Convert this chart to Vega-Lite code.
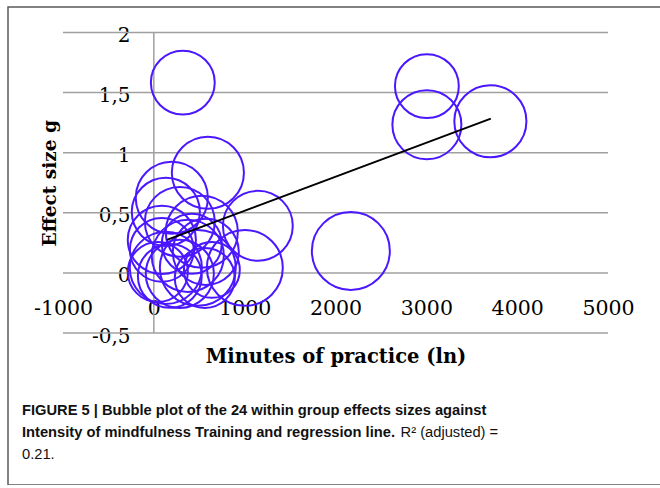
{
  "$schema": "https://vega.github.io/schema/vega-lite/v6.json",
  "width": 660,
  "height": 478,
  "autosize": {"type": "none"},
  "padding": {"left": 8, "top": 7, "right": 0, "bottom": 0},
  "background": "white",
  "datasets": {
    "bubbles": [
      {"minutes": 319, "g": 1.583, "w": 102},
      {"minutes": 3006, "g": 1.554, "w": 102},
      {"minutes": 3006, "g": 1.233, "w": 119},
      {"minutes": 3705, "g": 1.262, "w": 130},
      {"minutes": 2169, "g": 0.183, "w": 152},
      {"minutes": 595, "g": 0.833, "w": 130},
      {"minutes": 1145, "g": 0.392, "w": 122},
      {"minutes": 1002, "g": 0.042, "w": 144},
      {"minutes": 198, "g": 0.625, "w": 130},
      {"minutes": 132, "g": 0.508, "w": 116},
      {"minutes": 286, "g": 0.425, "w": 122},
      {"minutes": 88, "g": 0.275, "w": 116},
      {"minutes": 528, "g": 0.342, "w": 130},
      {"minutes": 88, "g": 0.192, "w": 102},
      {"minutes": 374, "g": 0.142, "w": 130},
      {"minutes": 132, "g": 0.042, "w": 130},
      {"minutes": 484, "g": 0.042, "w": 144},
      {"minutes": 572, "g": 0.175, "w": 109},
      {"minutes": 44, "g": 0.008, "w": 90},
      {"minutes": 286, "g": -0.008, "w": 116},
      {"minutes": 561, "g": -0.042, "w": 90},
      {"minutes": 176, "g": -0.025, "w": 102},
      {"minutes": 639, "g": 0.025, "w": 78},
      {"minutes": 418, "g": 0.242, "w": 90}
    ],
    "grid": [{"g": -0.5}, {"g": 0}, {"g": 0.5}, {"g": 1}, {"g": 1.5}, {"g": 2}],
    "fit": [{"minutes": 143, "g": 0.275}, {"minutes": 3710, "g": 1.283}]
  },
  "title": {
    "text": ["FIGURE 5 | Bubble plot of the 24 within group effects sizes against", "Intensity of mindfulness Training and regression line."],
    "subtitle": ["\u200b\u2003\u2003\u2003\u2003\u2003\u2003\u2003\u2003\u2003\u2003\u2003\u2003\u2003\u2003\u2003\u2003\u2003\u2003\u2003\u2003\u2003\u2003\u2003\u2003\u2003\u2002 R² (adjusted) =", "0.21."],
    "orient": "bottom",
    "anchor": "start",
    "frame": "group",
    "offset": -82,
    "dx": 14,
    "font": "Liberation Sans",
    "fontSize": 14.7,
    "fontWeight": "bold",
    "color": "#111111",
    "lineHeight": 22,
    "subtitleFont": "Liberation Sans",
    "subtitleFontSize": 14.7,
    "subtitleFontWeight": "normal",
    "subtitleColor": "#111111",
    "subtitleLineHeight": 22,
    "subtitlePadding": -14.7
  },
  "layer": [
    {
      "data": {"name": "grid"},
      "mark": {"type": "rule", "color": "#a0a0a0", "strokeWidth": 1.5},
      "encoding": {
        "y": {"field": "g", "type": "quantitative", "scale": {"domain": [-0.5, 2], "range": [326, 25.5], "nice": false, "zero": false}, "axis": {"title": "Effect size g"}},
        "x": {"datum": -1000, "type": "quantitative", "scale": {"domain": [-1000, 5000], "range": [55, 600], "nice": false, "zero": false}, "axis": {"title": "Minutes of practice (ln)"}},
        "x2": {"datum": 5000}
      }
    },
    {
      "data": {"values": [{"minutes": 0}]},
      "mark": {"type": "rule", "color": "#a0a0a0", "strokeWidth": 1.5},
      "encoding": {
        "x": {"field": "minutes", "type": "quantitative", "axis": {"title": "Minutes of practice (ln)"}},
        "y": {"datum": -0.5, "type": "quantitative", "axis": {"title": "Effect size g"}},
        "y2": {"datum": 2}
      }
    },
    {
      "data": {"name": "bubbles"},
      "mark": {"type": "point", "shape": "circle", "filled": false, "strokeWidth": 2, "color": "#4a17ff", "opacity": 1},
      "encoding": {
        "x": {"field": "minutes", "type": "quantitative", "axis": {"title": "Minutes of practice (ln)"}},
        "y": {"field": "g", "type": "quantitative", "axis": {"title": "Effect size g"}},
        "size": {"field": "w", "type": "quantitative", "scale": {"type": "linear", "domain": [0, 160], "range": [0, 6400], "zero": true}, "legend": null}
      }
    },
    {
      "data": {"name": "fit"},
      "mark": {"type": "line", "color": "black", "strokeWidth": 2},
      "encoding": {
        "x": {"field": "minutes", "type": "quantitative", "axis": {"title": "Minutes of practice (ln)"}},
        "y": {"field": "g", "type": "quantitative", "axis": {"title": "Effect size g"}}
      }
    }
  ],
  "config": {
    "view": {"stroke": "#5a5a5a", "strokeWidth": 1.5},
    "axisX": {
      "orient": "bottom", "offset": -212, "tickCount": 6, "domain": false, "ticks": false, "grid": false,
      "labelPadding": 25, "labelFlush": false, "labelOverlap": false,
      "labelFont": "DejaVu Serif", "labelFontSize": 20.5, "labelColor": "black",
      "labelExpr": "replace(format(datum.value,'d'),'\u2212','-')",
      "titleFont": "DejaVu Serif", "titleFontSize": 19.5, "titleFontWeight": "bold", "titleColor": "black", "titlePadding": 29
    },
    "axisY": {
      "orient": "left", "offset": -146, "tickCount": 5, "domain": false, "ticks": false, "grid": false,
      "labelPadding": 24, "labelFlush": false, "labelOverlap": false, "labelOffset": 3,
      "labelFont": "DejaVu Serif", "labelFontSize": 20, "labelColor": "black",
      "labelExpr": "replace(replace(format(datum.value,'~g'),'.',','),'\u2212','-')",
      "titleFont": "DejaVu Serif", "titleFontSize": 18.5, "titleFontWeight": "bold", "titleColor": "black", "titlePadding": 32
    }
  }
}
